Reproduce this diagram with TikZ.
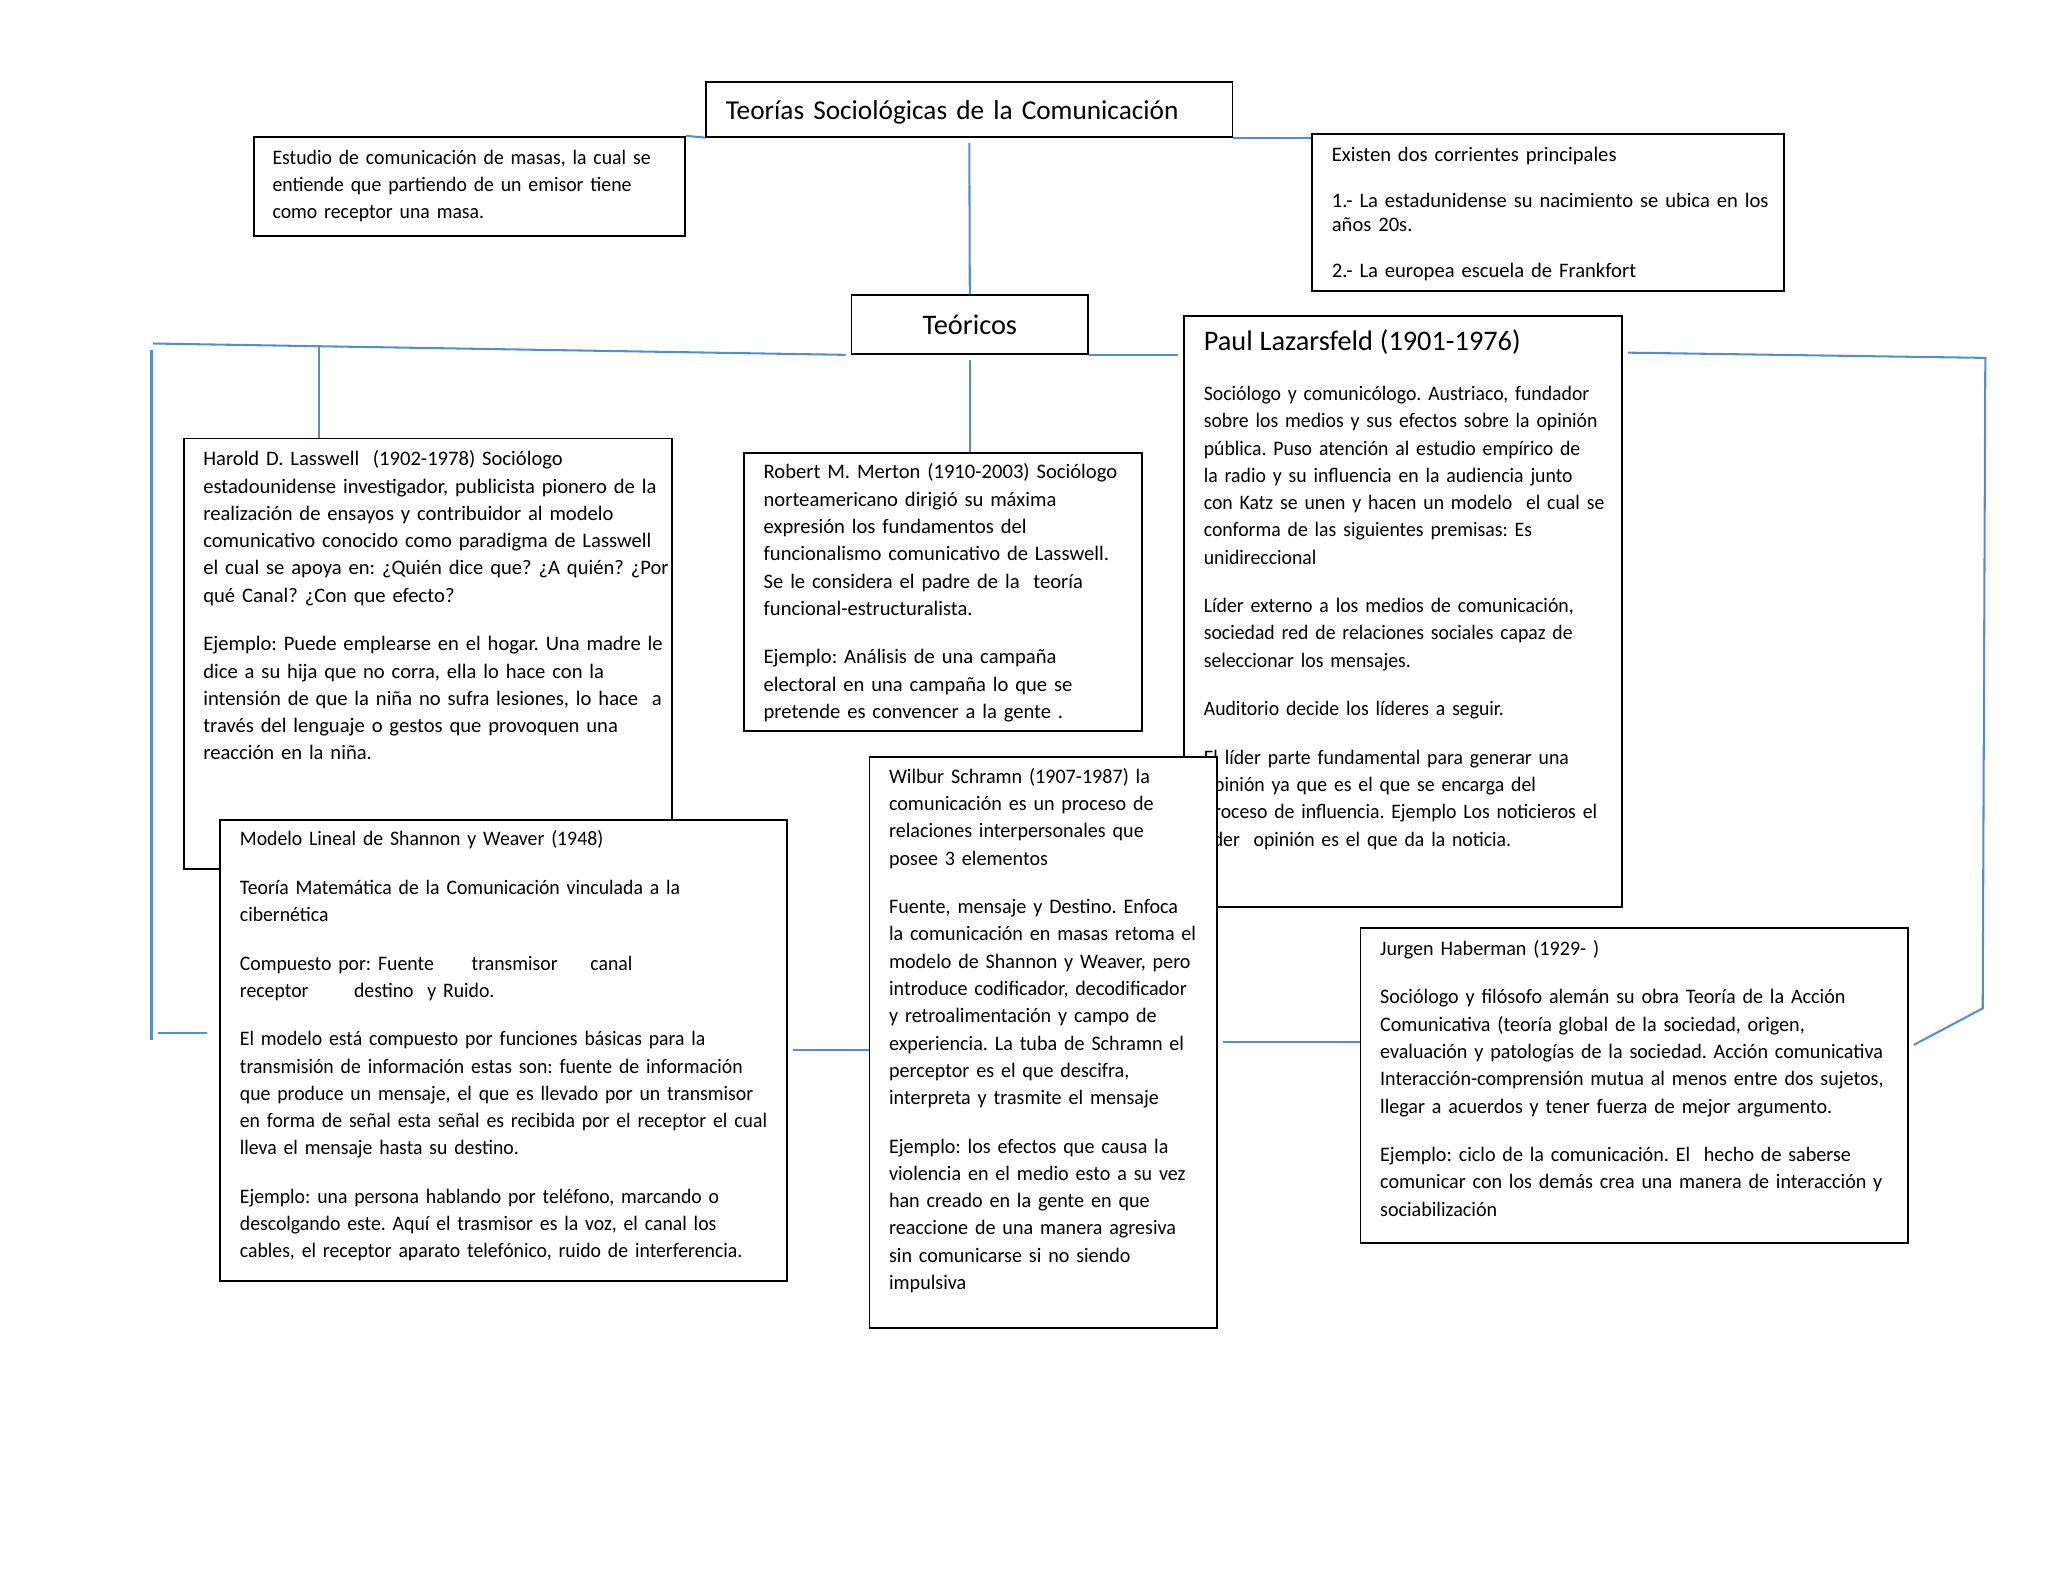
\documentclass[tikz,border=0pt]{standalone}
\usepackage{fontspec}
\setmainfont{Carlito}
\newfontfamily\cardnarrow[FakeStretch=0.958]{Carlito}
\newfontfamily\cardslim[FakeStretch=0.975]{Carlito}
\usetikzlibrary{calc}
\definecolor{linkblue}{RGB}{86,142,204}
\frenchspacing

\begin{document}
\begin{tikzpicture}
	[x=0.01782cm,y=-0.01782cm,
	card/.style={rectangle,draw=black,line width=0.7pt,fill=white,anchor=north west,
		align=left,inner xsep=7.6pt,inner ysep=0pt,font={\fontsize{8}{10.6}\selectfont},
		execute at begin node={\rightskip=0pt plus 1fil minus 40pt\relax}},
	link/.style={draw=linkblue,line width=0.8pt}
	]
	\useasboundingbox (0,0) rectangle (1568,1211);

	% top row
	\node[card,text width=189.1pt,text height=14.7pt,text depth=6.6pt,font={\fontsize{10.6}{13}\selectfont}] (title) at (540,62)
		{Teorías Sociológicas de la Comunicación};
	\node[card,text width=153.1pt,inner xsep=7.1pt,text height=10.6pt,text depth=27.9pt,font={\cardnarrow\fontsize{8}{10.6}\selectfont}] (masas) at (194,104)
		{Estudio de comunicación de masas, la cual se\\
		entiende que partiendo de un emisor tiene\\
		como receptor una masa.};
	\node[card,text width=167.8pt,text height=10.6pt,text depth=50.2pt,font={\fontsize{8}{9.6}\selectfont}] (existen) at (1004,102)
		{Existen dos corrientes principales\\[8.1pt]
		\makebox[\linewidth][s]{1.- La estadunidense su nacimiento se ubica en los}\\
		años 20s.\\[8.1pt]
		2.- La europea escuela de Frankfort};
	\node[rectangle,draw=black,line width=0.7pt,minimum width=91.8pt,minimum height=22.8pt,inner sep=0pt,
		font={\fontsize{11}{13}\selectfont}] (teoricos) at (742.5,248.5) {Teóricos};

	% theorists
	\node[card,text width=174.4pt,text height=10.6pt,text depth=156.7pt] (lasswell) at (140,335)
		{Harold D. Lasswell\ \ (1902-1978) Sociólogo\\
		estadounidense investigador, publicista pionero de la\\
		realización de ensayos y contribuidor al modelo\\
		comunicativo conocido como paradigma de Lasswell\\
		el cual se apoya en: ¿Quién dice que? ¿A quién? ¿Por\\
		qué Canal? ¿Con que efecto?\\[8.2pt]
		Ejemplo: Puede emplearse en el hogar. Una madre le\\
		dice a su hija que no corra, ella lo hace con la\\
		intensión de que la niña no sufra lesiones, lo hace\ \ a\\
		través del lenguaje o gestos que provoquen una\\
		reacción en la niña.};
	\node[card,text width=204.8pt,text height=10.1pt,text depth=168.8pt,font={\cardnarrow\fontsize{8}{10.6}\selectfont}] (shannon) at (168,627)
		{Modelo Lineal de Shannon y Weaver (1948)\\[8.2pt]
		Teoría Matemática de la Comunicación vinculada a la\\
		cibernética\\[8.2pt]
		Compuesto por: Fuente\hspace{14.7pt}transmisor\hspace{12.7pt}canal\\
		receptor\hspace{17.7pt}destino\ \ y Ruido.\\[8.2pt]
		El modelo está compuesto por funciones básicas para la\\
		transmisión de información estas son: fuente de información\\
		que produce un mensaje, el que es llevado por un transmisor\\
		en forma de señal esta señal es recibida por el receptor el cual\\
		lleva el mensaje hasta su destino.\\[8.2pt]
		Ejemplo: una persona hablando por teléfono, marcando o\\
		descolgando este. Aquí el trasmisor es la voz, el canal los\\
		cables, el receptor aparato telefónico, ruido de interferencia.};
	\node[card,text width=139.4pt,text height=10.1pt,text depth=97.9pt] (merton) at (569,346)
		{Robert M. Merton (1910-2003) Sociólogo\\
		norteamericano dirigió su máxima\\
		expresión los fundamentos del\\
		funcionalismo comunicativo de Lasswell.\\
		Se le considera el padre de la\ \ teoría\\
		funcional-estructuralista.\\[8.2pt]
		Ejemplo: Análisis de una campaña\\
		electoral en una campaña lo que se\\
		pretende es convencer a la gente .};
	\node[card,text width=154.6pt,text height=13.4pt,text depth=216.2pt,font={\cardnarrow\fontsize{8}{10.6}\selectfont}] (lazarsfeld) at (906,241)
		{{\rmfamily\fontsize{11}{13}\selectfont Paul Lazarsfeld (1901-1976)}\\[8.9pt]
		Sociólogo y comunicólogo. Austriaco, fundador\\
		sobre los medios y sus efectos sobre la opinión\\
		pública. Puso atención al estudio empírico de\\
		la radio y su influencia en la audiencia junto\\
		con Katz se unen y hacen un modelo\ \ el cual se\\
		conforma de las siguientes premisas: Es\\
		unidireccional\\[8.2pt]
		Líder externo a los medios de comunicación,\\
		sociedad red de relaciones sociales capaz de\\
		seleccionar los mensajes.\\[8.2pt]
		Auditorio decide los líderes a seguir.\\[8.2pt]
		El líder parte fundamental para generar una\\
		opinión ya que es el que se encarga del\\
		proceso de influencia. Ejemplo Los noticieros el\\
		líder\ \ opinión es el que da la noticia.};
	\node[card,text width=119.7pt,text height=10.1pt,text depth=211.4pt,font={\cardslim\fontsize{8}{10.6}\selectfont}] (schramn) at (665,579)
		{Wilbur Schramn (1907-1987) la\\
		comunicación es un proceso de\\
		relaciones interpersonales que\\
		posee 3 elementos\\[8.2pt]
		Fuente, mensaje y Destino. Enfoca\\
		la comunicación en masas retoma el\\
		modelo de Shannon y Weaver, pero\\
		introduce codificador, decodificador\\
		y retroalimentación y campo de\\
		experiencia. La tuba de Schramn el\\
		perceptor es el que descifra,\\
		interpreta y trasmite el mensaje\\[8.2pt]
		Ejemplo: los efectos que causa la\\
		violencia en el medio esto a su vez\\
		han creado en la gente en que\\
		reaccione de una manera agresiva\\
		sin comunicarse si no siendo\\
		impulsiva};
	\node[card,text width=197.2pt,text height=10.6pt,text depth=111.5pt,font={\cardslim\fontsize{8}{10.6}\selectfont}] (haberman) at (1041,710)
		{Jurgen Haberman (1929- )\\[8.2pt]
		Sociólogo y filósofo alemán su obra Teoría de la Acción\\
		Comunicativa (teoría global de la sociedad, origen,\\
		evaluación y patologías de la sociedad. Acción comunicativa\\
		Interacción-comprensión mutua al menos entre dos sujetos,\\
		llegar a acuerdos y tener fuerza de mejor argumento.\\[8.2pt]
		Ejemplo: ciclo de la comunicación. El\ \ hecho de saberse\\
		comunicar con los demás crea una manera de interacción y\\
		sociabilización};

	% connectors
	\coordinate (lend) at (117,263);
	\coordinate (ltop) at (116,268);
	\coordinate (lbot) at (116,796);
	\coordinate (lstub) at (121,791);
	\coordinate (ldrop) at (244,265);
	\coordinate (rtop) at (1520,274);
	\coordinate (rbot) at (1518,772);

	\draw[link] (masas.north east) -- (title.south west);
	\draw[link] (title.south east) -- (existen.west |- title.south east);
	\draw[link] ([yshift=-2pt]title.south) -- (teoricos.north);
	\draw[link] ([yshift=-2pt]teoricos.south) -- (teoricos.south |- merton.north);
	\draw[link] ([xshift=-2pt]teoricos.south west) -- (lend);
	\draw[link] (ltop) -- (lbot);
	\draw[link] (lstub) -- ([xshift=-5pt]shannon.west |- lstub);
	\draw[link] (ldrop) -- (ldrop |- lasswell.north);
	\draw[link] (teoricos.south east) -- ([xshift=-2pt]lazarsfeld.west |- teoricos.south east);
	\draw[link] ($(lazarsfeld.north east)+(4,29)$) -- (rtop) -- (rbot) -- ($(haberman.north east)+(4,90)$);
	\draw[link] ([xshift=2pt]shannon.east) -- (schramn.west |- shannon.east);
	\draw[link] ([xshift=2pt]schramn.east) -- (haberman.west |- schramn.east);
\end{tikzpicture}
\end{document}
